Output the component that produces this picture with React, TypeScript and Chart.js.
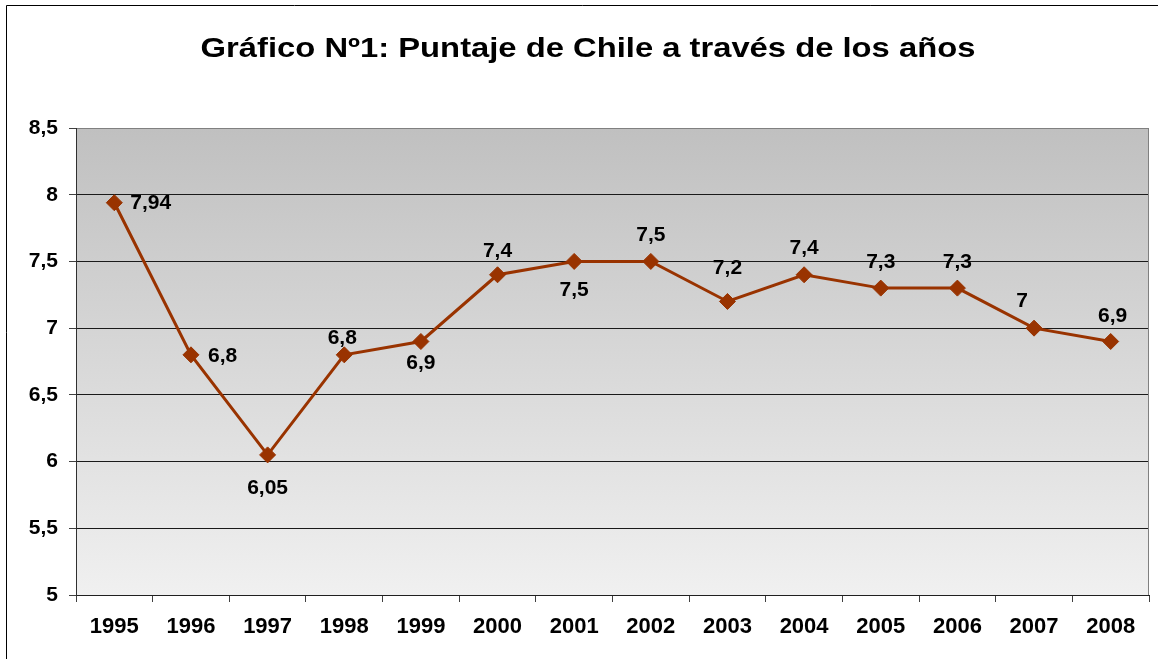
import React, { useEffect, useRef } from "react";
import { Chart, registerables } from "chart.js";

Chart.register(...registerables);

const categories = ["1995", "1996", "1997", "1998", "1999", "2000", "2001", "2002", "2003", "2004", "2005", "2006", "2007", "2008"];
const scores = [7.94, 6.8, 6.05, 6.8, 6.9, 7.4, 7.5, 7.5, 7.2, 7.4, 7.3, 7.3, 7, 6.9];
const yTicks = [5, 5.5, 6, 6.5, 7, 7.5, 8, 8.5];
const titleText = "Gráfico Nº1: Puntaje de Chile a través de los años";

// label placement offsets (dx, dy, align) relative to each marker
const labelOffsets: [number, number, CanvasTextAlign][] = [
  [16, 0, "left"],
  [17, 1, "left"],
  [0, 33, "center"],
  [-2, -17, "center"],
  [0, 22, "center"],
  [0, -24, "center"],
  [0, 29, "center"],
  [0, -26, "center"],
  [0, -33, "center"],
  [0, -27, "center"],
  [0, -26, "center"],
  [0, -26, "center"],
  [-12, -27, "center"],
  [2, -25, "center"],
];

const FONT = "'Liberation Sans', Arial, Helvetica, sans-serif";
const fmt = (v: number) => String(v).replace(".", ",");

const bgPlugin = {
  id: "plotBg",
  beforeDraw(chart: any) {
    const { ctx, chartArea: a, width, height } = chart;
    ctx.save();
    ctx.fillStyle = "#ffffff";
    ctx.fillRect(0, 0, width, height);
    const g = ctx.createLinearGradient(0, a.top, 0, a.bottom);
    g.addColorStop(0, "#c0c0c0");
    g.addColorStop(1, "#f0f0f0");
    ctx.fillStyle = g;
    ctx.fillRect(a.left, a.top, a.right - a.left, a.bottom - a.top);
    ctx.restore();
  },
  afterDraw(chart: any) {
    const { ctx, chartArea: a, width, height } = chart;
    ctx.save();
    ctx.strokeStyle = "#808080";
    ctx.lineWidth = 1;
    ctx.beginPath();
    ctx.moveTo(a.right - 0.5, a.top);
    ctx.lineTo(a.right - 0.5, a.bottom);
    ctx.stroke();
    ctx.strokeStyle = "#000000";
    ctx.beginPath();
    ctx.moveTo(width, 5.5);
    ctx.lineTo(6.5, 5.5);
    ctx.lineTo(6.5, height);
    ctx.stroke();
    // title (slightly widened glyphs, as in the reference)
    ctx.font = `bold 28px ${FONT}`;
    ctx.fillStyle = "#000000";
    ctx.textAlign = "center";
    ctx.textBaseline = "alphabetic";
    ctx.translate(588, 57);
    ctx.scale(1.17, 1);
    ctx.fillText(titleText, 0, 0);
    ctx.restore();
  },
};

const labelPlugin = {
  id: "pointLabels",
  afterDatasetsDraw(chart: any) {
    const { ctx } = chart;
    const meta = chart.getDatasetMeta(0);
    ctx.save();
    ctx.font = `bold 21px ${FONT}`;
    ctx.fillStyle = "#000000";
    ctx.textBaseline = "middle";
    meta.data.forEach((pt: any, i: number) => {
      const [dx, dy, align] = labelOffsets[i];
      ctx.textAlign = align;
      ctx.fillText(fmt(scores[i]), pt.x + dx, pt.y + dy);
    });
    ctx.restore();
  },
};

export default function App() {
  const ref = useRef<HTMLCanvasElement | null>(null);
  useEffect(() => {
    if (!ref.current) return;
    const chart = new Chart(ref.current, {
      type: "line",
      data: {
        labels: categories,
        datasets: [
          {
            data: scores,
            borderColor: "#993300",
            borderWidth: 3,
            pointStyle: "rectRot",
            pointRadius: 8,
            pointBorderWidth: 1,
            pointBackgroundColor: "#993300",
            pointBorderColor: "#993300",
            tension: 0,
          },
        ],
      },
      options: {
        responsive: false,
        animation: false,
        devicePixelRatio: 1,
        layout: { padding: { top: 128, right: 8, bottom: 0, left: 0 } },
        plugins: {
          legend: { display: false },
          tooltip: { enabled: false },
          title: { display: false },
        },
        scales: {
          x: {
            type: "category",
            offset: true,
            grid: {
              offset: true,
              drawOnChartArea: false,
              drawTicks: true,
              tickLength: 7,
              color: "#404040",
            },
            border: { display: true, color: "#202020", width: 1 },
            ticks: {
              color: "#000000",
              font: { family: FONT, size: 22, weight: "bold" },
              padding: 12,
              maxRotation: 0,
              autoSkip: false,
            },
            afterFit(scale: any) {
              scale.height = 64;
            },
          },
          y: {
            min: 5,
            max: 8.5,
            afterBuildTicks(scale: any) {
              scale.ticks = yTicks.map((v) => ({ value: v }));
            },
            grid: {
              color: (c: any) => (c.tick && c.tick.value === 8.5 ? "#808080" : "#1a1a1a"),
              tickLength: 7,
              tickColor: "#404040",
              lineWidth: 1,
            },
            border: { display: true, color: "#303030", width: 1 },
            ticks: {
              color: "#000000",
              font: { family: FONT, size: 21, weight: "bold" },
              padding: 11,
              callback: (v: any) => fmt(Number(v)),
            },
            afterFit(scale: any) {
              scale.width = 76;
            },
          },
        },
      },
      plugins: [bgPlugin, labelPlugin],
    });
    return () => chart.destroy();
  }, []);
  return (
    <div style={{ position: "fixed", left: 0, top: 0, width: 1158, height: 659 }}>
      <canvas ref={ref} width={1158} height={659} style={{ width: 1158, height: 659, display: "block" }} />
    </div>
  );
}
